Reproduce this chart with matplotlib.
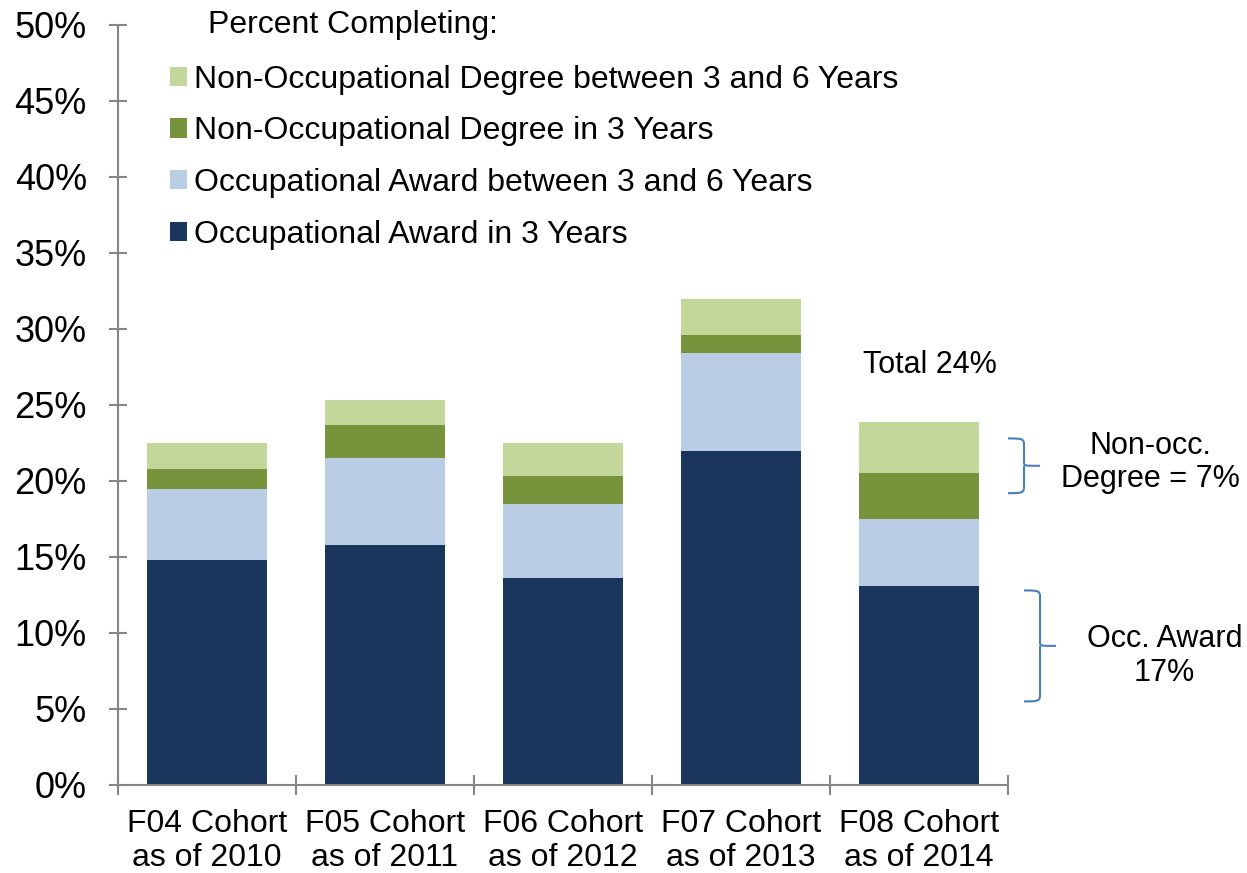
import numpy as np
import matplotlib
matplotlib.use("Agg")
import matplotlib.pyplot as plt
from matplotlib.patches import Patch
from matplotlib.path import Path
from matplotlib.patches import PathPatch

plt.rcParams['font.family'] = ['Liberation Sans', 'DejaVu Sans']

cohorts = ["F04 Cohort\nas of 2010", "F05 Cohort\nas of 2011", "F06 Cohort\nas of 2012",
           "F07 Cohort\nas of 2013", "F08 Cohort\nas of 2014"]
series_names = ["Occupational Award in 3 Years",
                "Occupational Award between 3 and 6 Years",
                "Non-Occupational Degree in 3 Years",
                "Non-Occupational Degree between 3 and 6 Years"]
occ_3yr = [14.8, 15.8, 13.6, 22.0, 13.1]
occ_3to6 = [4.7, 5.7, 4.9, 6.4, 4.4]
nonocc_3yr = [1.3, 2.2, 1.8, 1.2, 3.0]
nonocc_3to6 = [1.7, 1.6, 2.2, 2.4, 3.4]
colors = ["#1B365D", "#B9CDE5", "#77933C", "#C4D79B"]

GRAY = "#868686"
BLUE = "#4A7EBB"

fig = plt.figure(figsize=(12.47, 8.73), dpi=100)
ax = fig.add_axes([118 / 1247, 88 / 873, 890 / 1247, 760 / 873])

x = np.arange(len(cohorts))
bottom = np.zeros(len(cohorts))
for vals, col in zip([occ_3yr, occ_3to6, nonocc_3yr, nonocc_3to6], colors):
    ax.bar(x, vals, width=0.674, bottom=bottom, color=col, linewidth=0)
    bottom += np.array(vals)

ax.set_xlim(-0.5, len(cohorts) - 0.5)
ax.set_ylim(0, 50)
ax.set_yticks(np.arange(0, 51, 5))
ax.set_yticklabels([f"{v}%" for v in range(0, 51, 5)], fontsize=26)
ax.set_xticks(x)
ax.set_xticklabels(cohorts, fontsize=23, linespacing=1.2)
ax.set_xticks(np.arange(-0.5, len(cohorts), 1), minor=True)
ax.tick_params(axis='x', which='major', length=0, pad=17)
ax.tick_params(axis='x', which='minor', direction='inout', length=14, width=1.5, color=GRAY)
ax.tick_params(axis='y', direction='inout', length=13, width=1.5, color=GRAY, pad=16)
for s in ['top', 'right']:
    ax.spines[s].set_visible(False)
for s in ['left', 'bottom']:
    ax.spines[s].set_color(GRAY)
    ax.spines[s].set_linewidth(1.5)

# legend (reversed order, title drawn separately)
handles = [Patch(facecolor=c, edgecolor='none') for c in colors][::-1]
ax.legend(handles, series_names[::-1], loc='upper left', bbox_to_anchor=(0.058, 0.948),
          frameon=False, fontsize=23, handlelength=0.55, handleheight=0.55,
          handletextpad=0.2, labelspacing=0.68, borderpad=0, borderaxespad=0)
ax.text(0.101, 1.0, "Percent Completing:", transform=ax.transAxes, fontsize=23,
        ha='left', va='center')

total_f08 = bottom[-1]
ax.text(4.06, 27.6, f"Total {total_f08:.0f}%", fontsize=22, ha='center', va='center')


def brace(ax, x0, x1, y_top, y_bot, color=BLUE):
    # curly brace opening to the left, tip pointing right, in data coords
    xm = (x0 + x1) / 2
    ym = (y_top + y_bot) / 2
    c = 0.4
    verts = [(x0, y_top),
             (xm - (xm - x0) * 0.2, y_top), (xm, y_top), (xm, y_top - c),
             (xm, ym + c * 0.6),
             (xm, ym), (xm, ym), (x1, ym),
             (xm, ym), (xm, ym), (xm, ym - c * 0.6),
             (xm, y_bot + c),
             (xm, y_bot), (xm - (xm - x0) * 0.2, y_bot), (x0, y_bot)]
    codes = [Path.MOVETO,
             Path.CURVE4, Path.CURVE4, Path.CURVE4,
             Path.LINETO,
             Path.CURVE4, Path.CURVE4, Path.CURVE4,
             Path.MOVETO, Path.CURVE4, Path.CURVE4,
             Path.LINETO,
             Path.CURVE4, Path.CURVE4, Path.CURVE4]
    p = PathPatch(Path(verts, codes), facecolor='none', edgecolor=color, lw=1.5, clip_on=False)
    ax.add_patch(p)


brace(ax, 4.50, 4.68, 22.8, 19.2)
brace(ax, 4.59, 4.77, 12.8, 5.5)

ax.text(5.30, 21.2, "Non-occ.\nDegree = 7%", fontsize=22, ha='center', va='center',
        linespacing=1.15)
ax.text(5.38, 8.5, "Occ. Award\n17%", fontsize=22, ha='center', va='center',
        linespacing=1.15)

fig.savefig("out.png", dpi=100)
